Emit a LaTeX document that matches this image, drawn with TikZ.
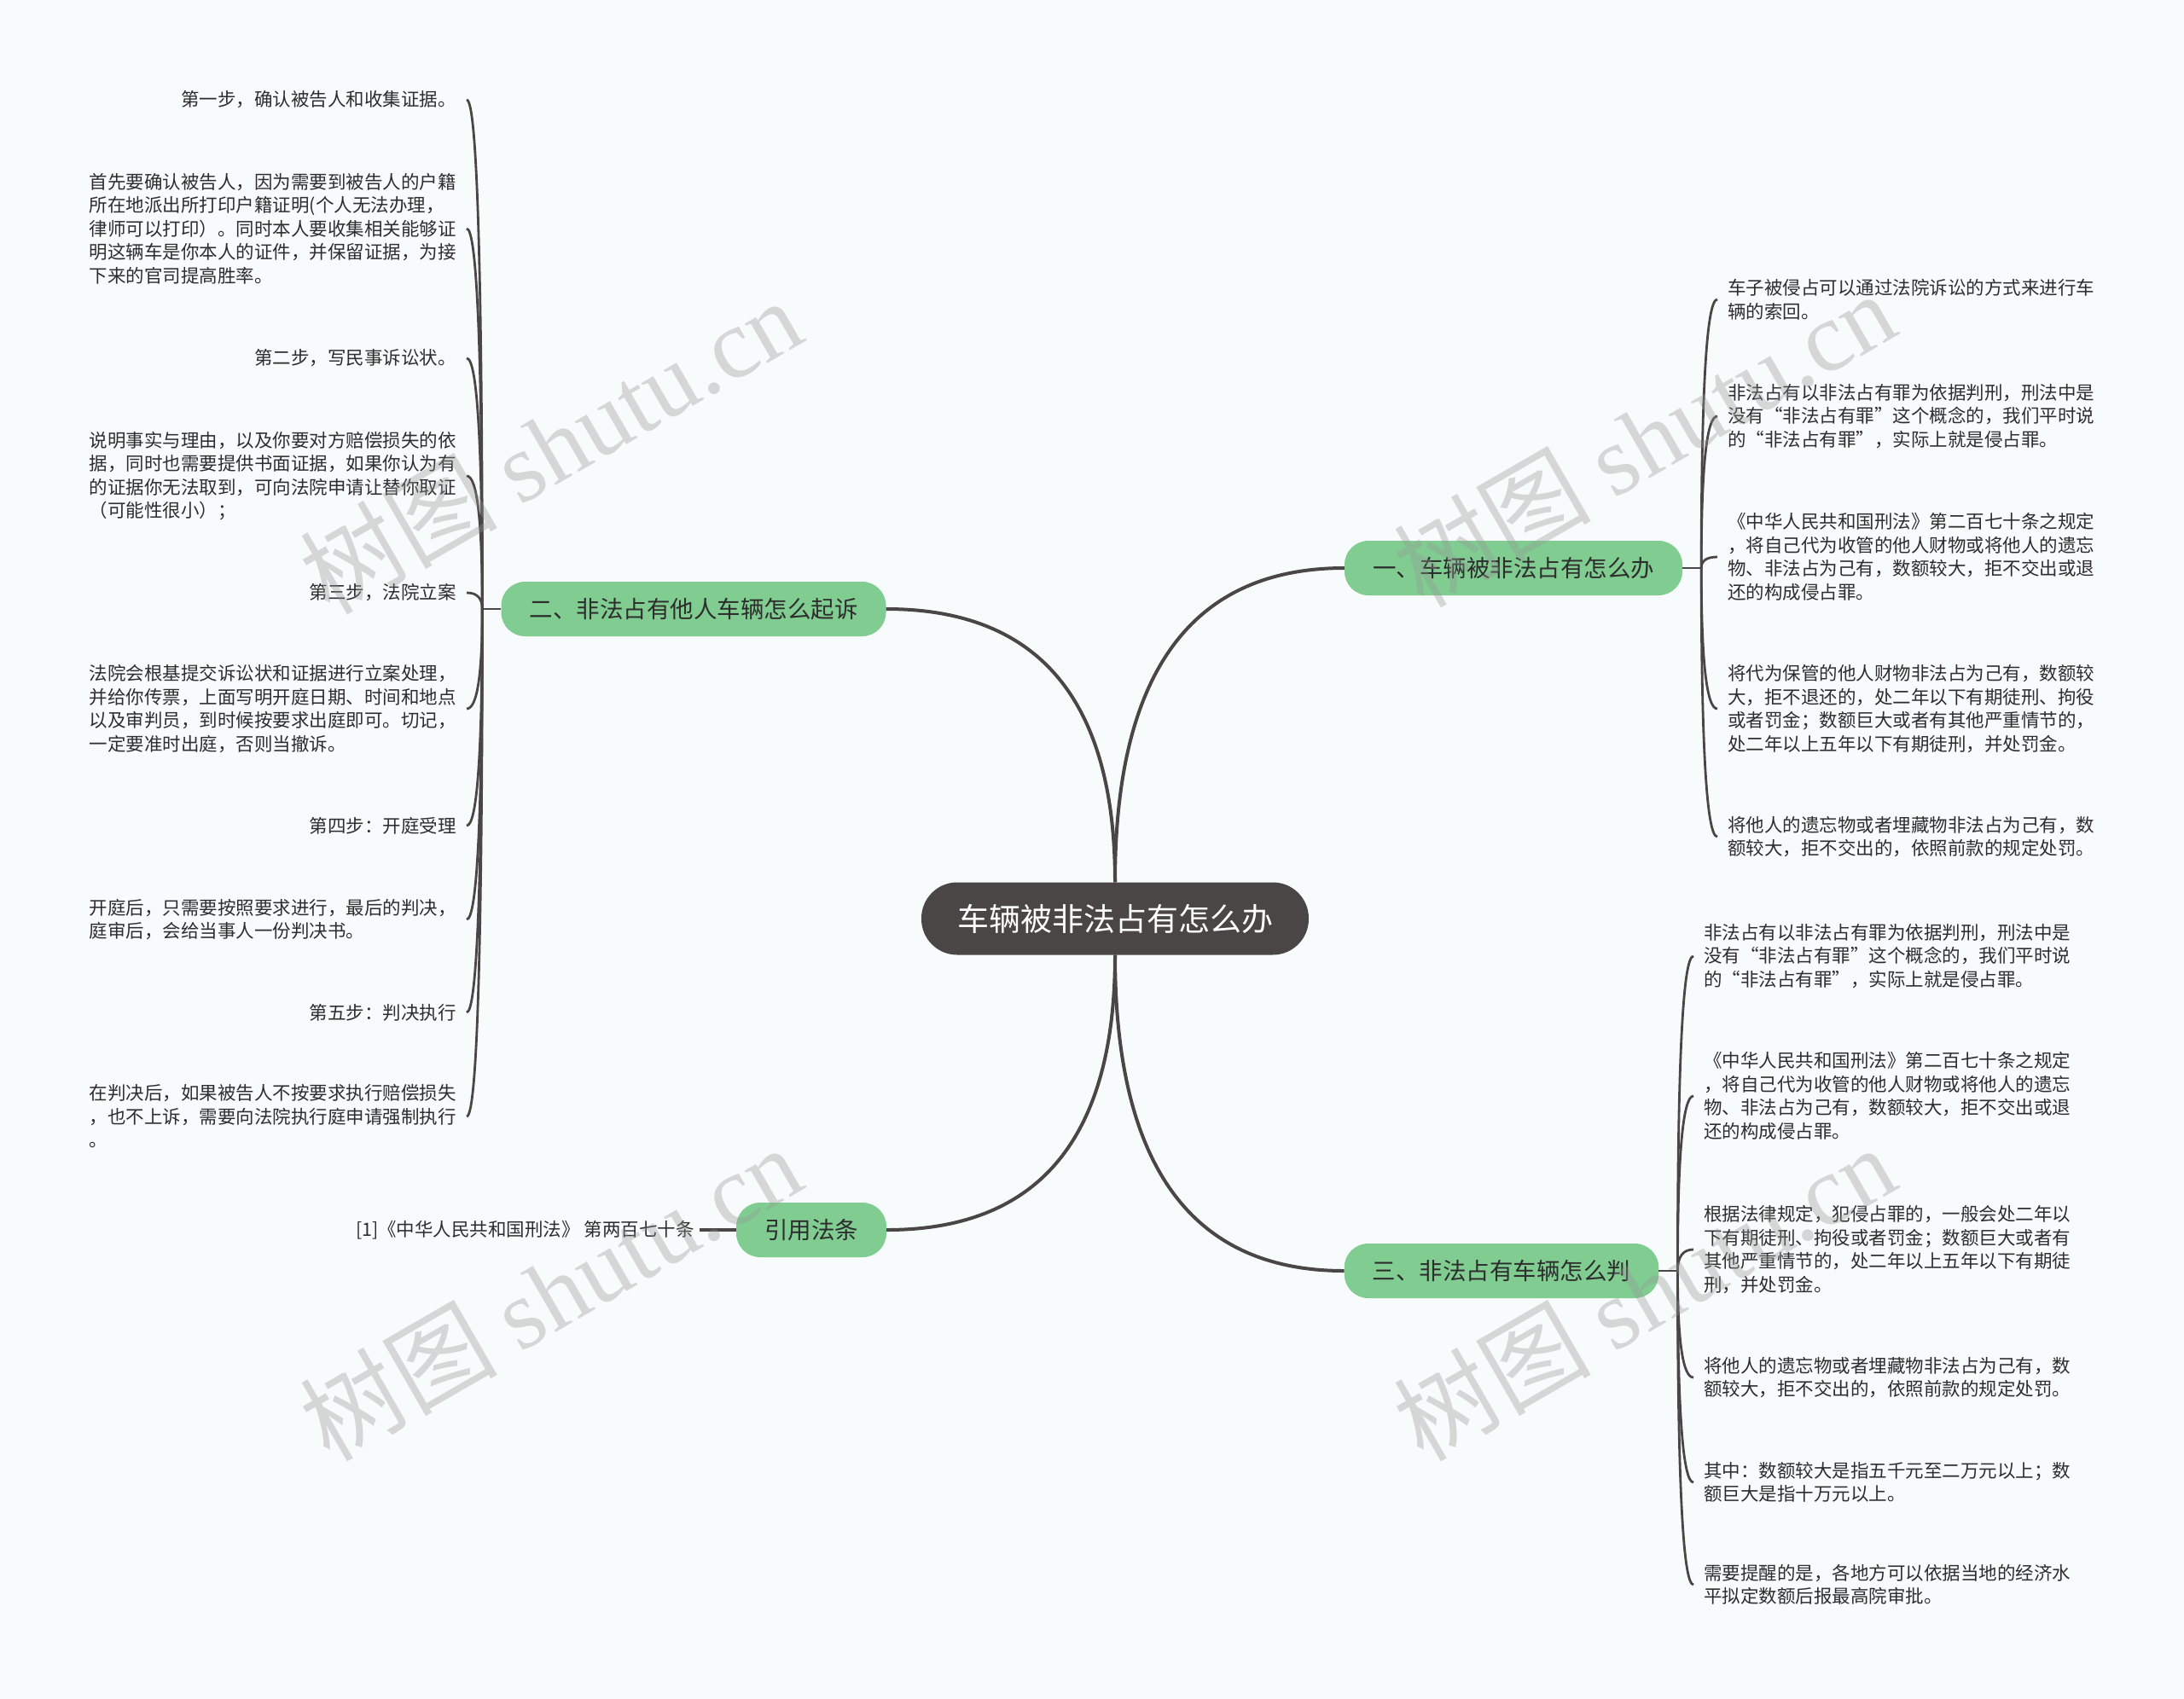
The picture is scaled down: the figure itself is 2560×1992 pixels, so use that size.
\documentclass[tikz,border=0pt]{standalone}
\usepackage{fontspec}
\setmainfont{Noto Sans CJK SC}
\newfontfamily\cjkfw[CharacterWidth=Full]{Noto Sans CJK SC}
\newfontfamily\wmserif{Liberation Serif}
\usetikzlibrary{calc}
\definecolor{bgc}{RGB}{248,251,251}
\definecolor{darkc}{RGB}{74,70,70}
\definecolor{mmgreen}{RGB}{128,204,145}
\definecolor{txtc}{RGB}{45,45,45}
\definecolor{wmc}{RGB}{150,150,150}
\newcommand\myqo{{\cjkfw “}}
\newcommand\myqc{{\cjkfw ”}}
\begin{document}
\begin{tikzpicture}[x=1pt,y=-1pt,
  rootbox/.style={rounded corners=42pt, fill=darkc, text=white, minimum height=85pt, inner xsep=42pt, font=\fontsize{37}{44}\selectfont},
  topic/.style={rounded corners=28pt, fill=mmgreen, text=txtc, minimum height=64pt, inner xsep=33pt, font=\fontsize{27.5}{33}\selectfont},
  leaf/.style={font=\fontsize{21.5}{27.5}\selectfont, text=txtc, align=left, inner xsep=12pt, inner ysep=4pt},
  conn/.style={draw=darkc, line width=4pt},
  leafconn/.style={draw=darkc, line width=2.8pt},
  wm/.style={text=wmc, opacity=0.35, rotate=30, font=\fontsize{116}{120}\selectfont}
]
\useasboundingbox (0,0) rectangle (2560,1992);
\fill[bgc] (0,0) rectangle (2560,1992);

% central and topics
\node[rootbox] (c) at (1307,1077) {车辆被非法占有怎么办};
\node[topic] (b1) at (1774,666) {一、车辆被非法占有怎么办};
\node[topic] (b2) at (813,714) {二、非法占有他人车辆怎么起诉};
\node[topic] (b3) at (1760,1490) {三、非法占有车辆怎么判};
\node[topic] (b4) at (951,1442) {引用法条};

\coordinate (j1) at ($(b1.east)+(22,0)$);
\coordinate (j2) at ($(b2.west)-(22,0)$);
\coordinate (j3) at ($(b3.east)+(22,0)$);

% left leaves (branch 2)
\node[leaf, anchor=east] (l1) at (547,117) {第一步，确认被告人和收集证据。};
\node[leaf, anchor=east] (l2) at (547,268) {首先要确认被告人，因为需要到被告人的户籍\\所在地派出所打印户籍证明(个人无法办理，\\律师可以打印）。同时本人要收集相关能够证\\明这辆车是你本人的证件，并保留证据，为接\\下来的官司提高胜率。};
\node[leaf, anchor=east] (l3) at (547,420) {第二步，写民事诉讼状。};
\node[leaf, anchor=east] (l4) at (547,558) {说明事实与理由，以及你要对方赔偿损失的依\\据，同时也需要提供书面证据，如果你认为有\\的证据你无法取到，可向法院申请让替你取证\\（可能性很小）；};
\node[leaf, anchor=east] (l5) at (547,695) {第三步，法院立案};
\node[leaf, anchor=east] (l6) at (547,831) {法院会根基提交诉讼状和证据进行立案处理，\\并给你传票，上面写明开庭日期、时间和地点\\以及审判员，到时候按要求出庭即可。切记，\\一定要准时出庭，否则当撤诉。};
\node[leaf, anchor=east] (l7) at (547,968) {第四步：开庭受理};
\node[leaf, anchor=east] (l8) at (547,1078) {开庭后，只需要按照要求进行，最后的判决，\\庭审后，会给当事人一份判决书。};
\node[leaf, anchor=east] (l9) at (547,1187) {第五步：判决执行};
\node[leaf, anchor=east] (l10) at (547,1309) {在判决后，如果被告人不按要求执行赔偿损失\\，也不上诉，需要向法院执行庭申请强制执行\\。};

% right leaves (branch 1)
\node[leaf, anchor=west] (r1) at (2013,351) {车子被侵占可以通过法院诉讼的方式来进行车\\辆的索回。};
\node[leaf, anchor=west] (r2) at (2013,488) {非法占有以非法占有罪为依据判刑，刑法中是\\没有\myqo 非法占有罪\myqc 这个概念的，我们平时说\\的\myqo 非法占有罪\myqc ，实际上就是侵占罪。};
\node[leaf, anchor=west] (r3) at (2013,653) {《中华人民共和国刑法》第二百七十条之规定\\，将自己代为收管的他人财物或将他人的遗忘\\物、非法占为己有，数额较大，拒不交出或退\\还的构成侵占罪。};
\node[leaf, anchor=west] (r4) at (2013,831) {将代为保管的他人财物非法占为己有，数额较\\大，拒不退还的，处二年以下有期徒刑、拘役\\或者罚金；数额巨大或者有其他严重情节的，\\处二年以上五年以下有期徒刑，并处罚金。};
\node[leaf, anchor=west] (r5) at (2013,981) {将他人的遗忘物或者埋藏物非法占为己有，数\\额较大，拒不交出的，依照前款的规定处罚。};

% right leaves (branch 3)
\node[leaf, anchor=west] (t1) at (1985,1121) {非法占有以非法占有罪为依据判刑，刑法中是\\没有\myqo 非法占有罪\myqc 这个概念的，我们平时说\\的\myqo 非法占有罪\myqc ，实际上就是侵占罪。};
\node[leaf, anchor=west] (t2) at (1985,1285) {《中华人民共和国刑法》第二百七十条之规定\\，将自己代为收管的他人财物或将他人的遗忘\\物、非法占为己有，数额较大，拒不交出或退\\还的构成侵占罪。};
\node[leaf, anchor=west] (t3) at (1985,1465) {根据法律规定，犯侵占罪的，一般会处二年以\\下有期徒刑、拘役或者罚金；数额巨大或者有\\其他严重情节的，处二年以上五年以下有期徒\\刑，并处罚金。};
\node[leaf, anchor=west] (t4) at (1985,1615) {将他人的遗忘物或者埋藏物非法占为己有，数\\额较大，拒不交出的，依照前款的规定处罚。};
\node[leaf, anchor=west] (t5) at (1985,1738) {其中：数额较大是指五千元至二万元以上；数\\额巨大是指十万元以上。};
\node[leaf, anchor=west] (t6) at (1985,1858) {需要提醒的是，各地方可以依据当地的经济水\\平拟定数额后报最高院审批。};

% citation leaf
\node[leaf, anchor=east, inner xsep=6pt] (cite) at (820,1442) {[1]《中华人民共和国刑法》 第两百七十条};

% connectors centre -> topics
\foreach \s/\t in {c.north/b1.west, c.north/b2.east, c.south/b3.west, c.south/b4.east}
  \draw[conn] (\s) .. controls ($(\s)!0.6667!(\s |- \t)$) and ($(\t)!0.6667!(\s |- \t)$) .. (\t);

\draw[conn] (b4.west) -- (cite.east);
\draw[leafconn] (b1.east) -- (j1);
\draw[leafconn] (b2.west) -- (j2);
\draw[leafconn] (b3.east) -- (j3);

\foreach \t in {r1,r2,r3,r4,r5}
  \draw[leafconn] (j1) .. controls ($(j1)!0.6667!(j1 |- \t.west)$) and ($(\t.west)!0.6667!(j1 |- \t.west)$) .. (\t.west);
\foreach \t in {t1,t2,t3,t4,t5,t6}
  \draw[leafconn] (j3) .. controls ($(j3)!0.6667!(j3 |- \t.west)$) and ($(\t.west)!0.6667!(j3 |- \t.west)$) .. (\t.west);
\foreach \t in {l1,l2,l3,l4,l5,l6,l7,l8,l9,l10}
  \draw[leafconn] (j2) .. controls ($(j2)!0.6667!(j2 |- \t.east)$) and ($(\t.east)!0.6667!(j2 |- \t.east)$) .. (\t.east);

% watermarks
\node[wm] (w1) at (645,522) {树图 {\wmserif shutu.cn}};
\node[wm] (w2) at (1927,514) {树图 {\wmserif shutu.cn}};
\node[wm] (w3) at (645,1515) {树图 {\wmserif shutu.cn}};
\node[wm] (w4) at (1927,1515) {树图 {\wmserif shutu.cn}};
\end{tikzpicture}
\end{document}
